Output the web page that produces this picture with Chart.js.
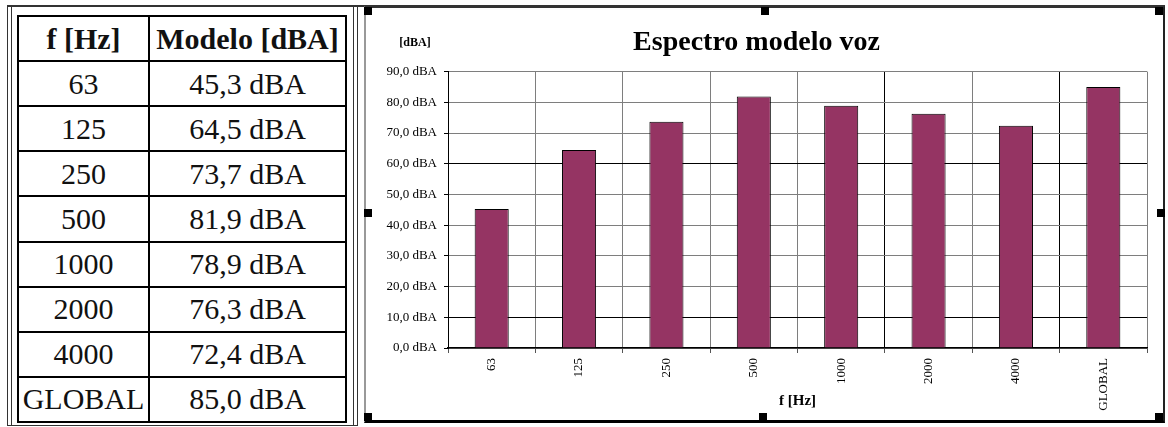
<!DOCTYPE html>
<html>
<head>
<meta charset="utf-8">
<script src="https://cdn.jsdelivr.net/npm/chart.js@4/dist/chart.umd.min.js"></script>
<style>
  body { margin: 0; background: #fff; width: 1168px; height: 427px; position: relative; overflow: hidden; font-family: "Liberation Serif", serif; }
  .line { position: absolute; background: #333; }
  #grid { position: absolute; left: 17px; top: 15px; height: 408px; border-collapse: collapse; font-size: 30px; color: #111; }
  #grid td, #grid th { border: 2px solid #000; text-align: center; padding: 0; height: 43px; line-height: 30px; white-space: nowrap; }
  #grid th { font-weight: bold; }
  #frame { position: absolute; left: 364px; top: 6px; width: 797px; height: 412px;
    border-top: 2px solid #333; border-right: 2px solid #222; border-bottom: 3px solid #000; border-left: 2px solid #999; }
  #frame canvas { position: absolute; left: 0; top: 0; }
  .handle { position: absolute; width: 8px; height: 8px; background: #000; }
</style>
</head>
<body>
<div class="line" style="left:7px; top:5px; width:1158px; height:2px;"></div>
<div class="line" style="left:7px; top:6px; width:1px; height:420px;"></div>
<div class="line" style="left:11px; top:6px; width:1px; height:420px;"></div>
<div class="line" style="left:353px; top:6px; width:1px; height:420px;"></div>
<div class="line" style="left:357px; top:6px; width:1px; height:420px;"></div>
<div class="line" style="left:7px; top:425px; width:351px; height:1px;"></div>

<table id="grid">
  <colgroup><col style="width:131px"><col style="width:197px"></colgroup>
  <thead><tr><th>f [Hz]</th><th>Modelo [dBA]</th></tr></thead>
  <tbody id="rows"></tbody>
</table>

<div id="frame"><canvas id="chart" width="797" height="412"></canvas></div>
<div class="handle" style="left:364px; top:7px;"></div>
<div class="handle" style="left:761px; top:7px;"></div>
<div class="handle" style="left:1155px; top:7px;"></div>
<div class="handle" style="left:364px; top:209px;"></div>
<div class="handle" style="left:1157px; top:209px;"></div>
<div class="handle" style="left:364px; top:413px;"></div>
<div class="handle" style="left:759px; top:413px;"></div>
<div class="handle" style="left:1155px; top:413px;"></div>

<script>
const freqLabels = ["63", "125", "250", "500", "1000", "2000", "4000", "GLOBAL"];
const levelsDbA = [45.3, 64.5, 73.7, 81.9, 78.9, 76.3, 72.4, 85.0];
const yMin = 0, yMax = 90, yStep = 10;
const darkY = [10, 60];     // horizontal gridlines that print black
const darkX = [5, 7];       // vertical gridlines that print black

const fmt = v => v.toFixed(1).replace(".", ",") + " dBA";

// TABLE
const tbody = document.getElementById("rows");
freqLabels.forEach((f, i) => {
  const tr = document.createElement("tr");
  tr.innerHTML = "<td>" + f + "</td><td>" + fmt(levelsDbA[i]) + "</td>";
  tbody.appendChild(tr);
});

// [dBA] label above the y axis
const unitLabel = {
  id: "unitLabel",
  afterDraw(chart) {
    const ctx = chart.ctx;
    ctx.save();
    ctx.font = 'bold 12px "Liberation Serif"';
    ctx.fillStyle = "#000";
    ctx.textAlign = "center";
    ctx.textBaseline = "middle";
    ctx.fillText("[dBA]", 49, 35);
    ctx.restore();
  }
};

/* BAR CHART */
new Chart(document.getElementById("chart"), {
  type: "bar",
  data: {
    labels: freqLabels,
    datasets: [{
      data: levelsDbA,
      backgroundColor: "#953463",
      borderColor: "#000",
      borderWidth: 1,
      categoryPercentage: 1,
      barPercentage: 0.39
    }]
  },
  options: {
    responsive: false,
    animation: false,
    devicePixelRatio: 1,
    layout: { padding: { left: 0, right: 16, top: 0, bottom: 0 } },
    plugins: {
      legend: { display: false },
      tooltip: { enabled: false },
      title: {
        display: true,
        text: "Espectro modelo voz",
        color: "#000",
        font: { family: "Liberation Serif", size: 28, weight: "bold" },
        padding: { top: 18, bottom: 12 }
      }
    },
    scales: {
      x: {
        afterFit: s => { s.height = 72; },
        grid: {
          offset: true,
          color: c => darkX.includes(c.index) ? "#000" : "#7e7e7e",
          tickColor: "#555",
          tickLength: 5
        },
        border: { color: "#000", width: 1.5 },
        ticks: {
          color: "#000",
          minRotation: 90,
          maxRotation: 90,
          padding: 5,
          font: { family: "Liberation Serif", size: 13 }
        },
        title: {
          display: true,
          text: "f [Hz]",
          color: "#000",
          font: { family: "Liberation Serif", size: 15, weight: "bold" },
          padding: { top: 0, bottom: 10 }
        }
      },
      y: {
        min: yMin,
        max: yMax,
        afterFit: s => { s.width = 82; },
        grid: {
          color: c => (c.tick && darkY.includes(c.tick.value)) ? "#000" : "#7e7e7e",
          tickColor: "#000",
          tickLength: 4
        },
        border: { color: "#000", width: 1 },
        ticks: {
          stepSize: yStep,
          color: "#000",
          padding: 7,
          font: { family: "Liberation Serif", size: 13 },
          callback: v => fmt(v)
        }
      }
    }
  },
  plugins: [unitLabel]
});
</script>
</body>
</html>
